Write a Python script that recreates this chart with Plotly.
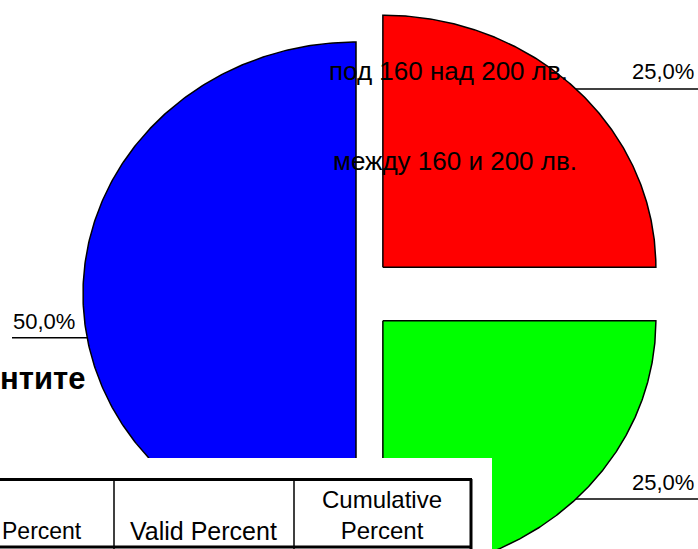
import numpy as np
import plotly.graph_objects as go

# ---- data ----
values = [25.0, 25.0, 50.0]
slice_colors = ["#FF0000", "#00FF00", "#0000FF"]
legend_labels = ["под 160 над 200 лв.", "между 160 и 200 лв."]
title_fragment = "нтите"
table_headers = ["Percent", "Valid Percent", "Cumulative<br>Percent"]

# ---- geometry / style (pixel-like axis units) ----
W, H = 698, 549
cx, cy = 356, 294          # pie centre
rx, ry = 273, 252          # elliptical radii
pulls = [38, 38, 0]        # explode distance along bisector
FONT = "Arial, Liberation Sans, sans-serif"

fig = go.Figure()

total = sum(values)
start = 0.0
bisectors = []
for v, col, pull in zip(values, slice_colors, pulls):
    a0 = start / total * 2 * np.pi
    a1 = (start + v) / total * 2 * np.pi
    mid = (a0 + a1) / 2
    ox = pull * np.sin(mid)
    oy = -pull * np.cos(mid)
    ccx, ccy = cx + ox, cy + oy
    t = np.linspace(a0, a1, 300)
    xs = np.concatenate([[ccx], ccx + rx * np.sin(t), [ccx]])
    ys = np.concatenate([[ccy], ccy - ry * np.cos(t), [ccy]])
    fig.add_trace(go.Scatter(x=xs, y=ys, mode="lines", fill="toself",
                             fillcolor=col, line=dict(color="black", width=1.5),
                             hoverinfo="skip", showlegend=False))
    bisectors.append((ccx, ccy, mid))
    start += v

# percentage labels with leader lines
pct_text = [f"{v / total * 100:.1f}".replace(".", ",") + "%" for v in values]
shapes = []
annotations = []
label_angle_shift = [0.0, 0.0, -np.pi / 18]
for i, ((ccx, ccy, mid), txt) in enumerate(zip(bisectors, pct_text)):
    ang = mid + label_angle_shift[i]
    px = ccx + rx * np.sin(ang)
    py = ccy - ry * np.cos(ang)
    if np.sin(ang) >= 0:
        x_end = W
        annotations.append(dict(x=W - 2, y=py - 17, xref="x", yref="y", text=txt,
                                showarrow=False, xanchor="right", yanchor="middle",
                                font=dict(family=FONT, size=22, color="black")))
    else:
        x_end = 12
        annotations.append(dict(x=11, y=py - 16, xref="x", yref="y", text=txt,
                                showarrow=False, xanchor="left", yanchor="middle",
                                font=dict(family=FONT, size=22, color="black")))
    shapes.append(dict(type="line", xref="x", yref="y", x0=px, y0=py, x1=x_end, y1=py,
                       line=dict(color="black", width=1.5)))

# floating legend texts
annotations.append(dict(x=327, y=71, xref="x", yref="y", text=legend_labels[0],
                        showarrow=False, xanchor="left", yanchor="middle",
                        font=dict(family=FONT, size=26, color="black")))
annotations.append(dict(x=331, y=161, xref="x", yref="y", text=legend_labels[1],
                        showarrow=False, xanchor="left", yanchor="middle",
                        font=dict(family=FONT, size=26, color="black")))

# cut title fragment
annotations.append(dict(x=87, y=378, xref="x", yref="y", text="<b>" + title_fragment + "</b>",
                        showarrow=False, xanchor="right", yanchor="middle",
                        font=dict(family=FONT, size=31, color="black")))

# table overlay
shapes.append(dict(type="rect", xref="x", yref="y", x0=-5, y0=458, x1=492, y1=560,
                   fillcolor="white", line=dict(width=0), layer="above"))
shapes.append(dict(type="line", xref="x", yref="y", x0=-5, y0=479.5, x1=472, y1=479.5,
                   line=dict(color="black", width=3), layer="above"))
shapes.append(dict(type="line", xref="x", yref="y", x0=-5, y0=547, x1=472, y1=547,
                   line=dict(color="black", width=3), layer="above"))
shapes.append(dict(type="line", xref="x", yref="y", x0=471, y0=479, x1=471, y1=549,
                   line=dict(color="black", width=3), layer="above"))
for xv in (114, 294):
    shapes.append(dict(type="line", xref="x", yref="y", x0=xv, y0=479, x1=xv, y1=549,
                       line=dict(color="black", width=1.5), layer="above"))

annotations.append(dict(x=0, y=531, xref="x", yref="y", text=table_headers[0],
                        showarrow=False, xanchor="left", yanchor="middle",
                        font=dict(family=FONT, size=23, color="black")))
annotations.append(dict(x=203, y=531, xref="x", yref="y", text=table_headers[1],
                        showarrow=False, xanchor="center", yanchor="middle",
                        font=dict(family=FONT, size=25, color="black")))
annotations.append(dict(x=382, y=515, xref="x", yref="y", text=table_headers[2],
                        showarrow=False, xanchor="center", yanchor="middle",
                        font=dict(family=FONT, size=24, color="black")))

fig.update_layout(
    width=W, height=H,
    margin=dict(l=0, r=0, t=0, b=0),
    paper_bgcolor="white", plot_bgcolor="white",
    xaxis=dict(range=[0, W], visible=False, fixedrange=True),
    yaxis=dict(range=[H, 0], visible=False, fixedrange=True),
    shapes=shapes, annotations=annotations, showlegend=False,
)

fig.write_html("out.html", config={"displayModeBar": False},
               post_script="document.body.style.margin='0';document.body.style.overflow='hidden';")
